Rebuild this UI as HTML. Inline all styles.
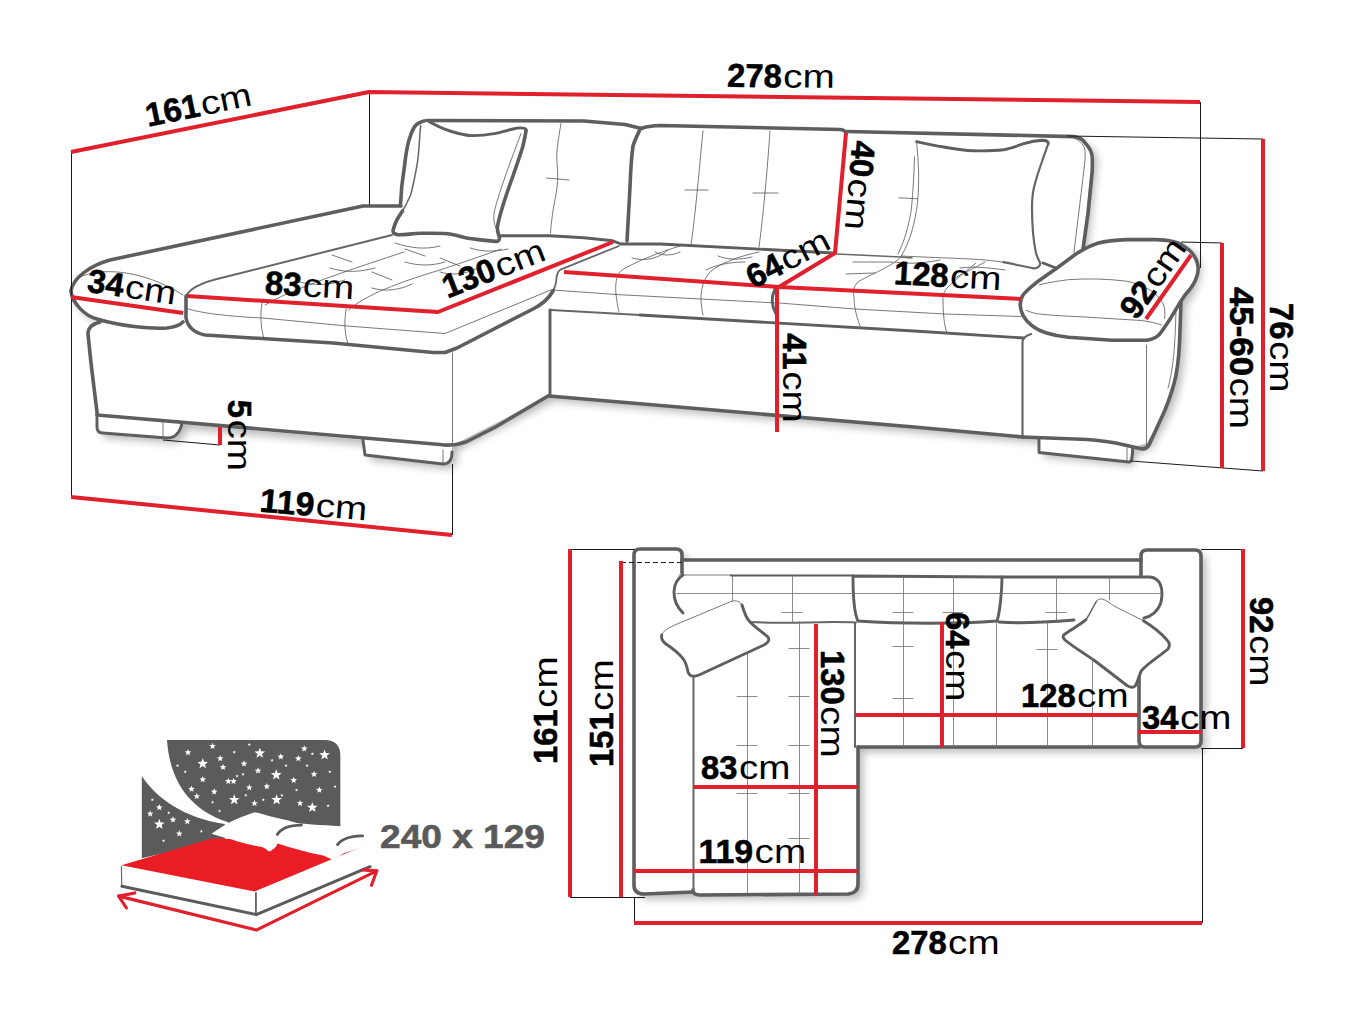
<!DOCTYPE html>
<html><head><meta charset="utf-8"><title>Sofa dimensions</title>
<style>
html,body{margin:0;padding:0;background:#fff;}
svg{display:block;}
.o{fill:none;stroke:#5e5e5e;stroke-width:3.6;stroke-linecap:round;stroke-linejoin:round;}
.o2{fill:none;stroke:#5e5e5e;stroke-width:2.9;stroke-linecap:round;stroke-linejoin:round;}
.m{fill:none;stroke:#666;stroke-width:1.5;stroke-linecap:round;stroke-linejoin:round;}
.t{fill:none;stroke:#555;stroke-width:0.8;stroke-linecap:round;}
.k{fill:none;stroke:#1a1a1a;stroke-width:1;}
.r{fill:none;stroke:#e0202c;stroke-width:4;stroke-linejoin:round;}
text{font-family:"Liberation Sans",sans-serif;font-size:33px;fill:#000;}
.b{font-weight:bold;stroke:#000;stroke-width:0.6;}
</style></head>
<body>
<svg width="1371" height="1028" viewBox="0 0 1371 1028">
<rect width="1371" height="1028" fill="#fff"/>
<g id="sofa3d">
<defs><filter id="sh" x="-5%" y="-5%" width="110%" height="115%"><feGaussianBlur stdDeviation="4"/></filter></defs>
<path d="M71,291C73,277 92,265 110,260L363,206H400L404,166L411,135Q416,122 428,120.500L584,121L641,128.500L660,125.500L840,129.500L847,132L1074,137Q1093,140 1092,160L1082,250C1095,243 1115,240 1131,240L1170,241C1185,243 1196,250 1196,262C1196,275 1190,290 1181,300L1180,330C1179,370 1175,385 1165,410L1147,443L1132,448L1129,461L1039,452V438L1023,437L549,396L452,445.500V452Q452,464 443,464L365,455L363,440L182,424Q179,438 167,438L103,433Q97,433 97,427V415L88,334Q88,326 97,319C85,316 72,303 71,291Z" fill="#000" opacity="0.28" filter="url(#sh)" transform="translate(5,5)"/>
<path d="M71,291C73,277 92,265 110,260L363,206H400L404,166L411,135Q416,122 428,120.500L584,121L641,128.500L660,125.500L840,129.500L847,132L1074,137Q1093,140 1092,160L1082,250C1095,243 1115,240 1131,240L1170,241C1185,243 1196,250 1196,262C1196,275 1190,290 1181,300L1180,330C1179,370 1175,385 1165,410L1147,443L1132,448L1129,461L1039,452V438L1023,437L549,396L452,445.500V452Q452,464 443,464L365,455L363,440L182,424Q179,438 167,438L103,433Q97,433 97,427V415L88,334Q88,326 97,319C85,316 72,303 71,291Z" fill="#fff"/>
<!-- back-left edge & left arm pad -->
<path class="o" d="M71,291C73,277 92,265 110,260L363,206H401"/>
<path class="o" d="M71,291C72,303 85,316 97,319C120,326 150,329 167,328C175,327 180,325 183,322"/>
<path class="t" d="M80,277C100,268 140,268 183,295"/>
<!-- chaise cushion -->
<path class="m" style="stroke-width:2" d="M392,235L215,279.500C200,283.500 190,288.500 186,296"/>
<path class="o" d="M186,296L186,318C188,328 195,333 205,335L333,343L433,352.500H445L457,348L533,309C543,304 549,298 553,291"/>
<path class="m" style="stroke-width:1.800" d="M553,291C556,285 556.500,282 556.500,278C557,273 558,271 561,269.300L619,246"/>
<path class="t" d="M186,308C200,314 240,317 263,318L347,326L445,333.500L552,289.500"/>
<path class="t" d="M263,299C260,310 260,325 264,339"/><path class="t" d="M347,305C344,318 344,332 348,344"/>
<!-- tufting center seat -->
<g class="t">
<path d="M680,246C660,252 635,262 622,270C616,275 615,285 616,294C617,303 618,308 619,312"/>
<path d="M759,252C740,256 720,263 710,272C703,280 701,290 701,298C701,305 702,310 703,315"/>
<path d="M553,290L616,294.500L701,299L776,303"/>
<path d="M779,303L855,309L945,314L1021,316.500"/>
<path d="M912,232C910,245 905,255 895,262C880,272 862,278 857,283C853,288 853,292 854,296C854,305 855,312 860,326"/>
<path d="M976,263C965,272 955,280 947,288C943,293 943,296 943,300C943,312 944,325 947,333"/>
<path d="M632,258C645,262 660,258 668,250"/><path d="M655,252C662,256 672,256 680,252"/>
<path d="M706,270C715,265 730,262 745,262"/><path d="M718,256C728,260 740,260 752,257"/>
<path d="M853,262H893"/><path d="M846,274L875,273"/><path d="M895,262C910,265 930,262 940,260"/>
<path d="M960,268C975,266 990,268 1005,270"/><path d="M955,278C965,272 975,268 985,262"/>
<!-- chaise tufting -->
<path d="M265,305C290,290 340,273 404,252"/>
<path d="M348.500,310C365,295 400,282 440,270C470,260 490,253 501,249"/>
<path d="M300,282C315,286 330,285 345,280"/><path d="M330,268C345,273 360,272 375,268"/>
<path d="M372,288C385,292 400,290 412,284"/><path d="M405,262C418,266 432,266 445,262"/>
<path d="M440,272C452,276 466,274 478,268"/><path d="M470,248C482,252 495,252 508,249"/>
<path d="M395,243C410,248 425,250 440,246"/><path d="M352,262L332,255"/><path d="M425,256L405,249"/><path d="M392,280L372,272"/><path d="M460,266L440,258"/>
</g>
<!-- chaise base -->
<path class="o" d="M100,322C92,324 88,328 88,334L91,363L97,412V415L440,444.500Q453,446.500 466,442L495.600,427L548,396"/>
<path class="o2" d="M97,415V427Q97,433 103,433L167,438Q179,438 182,423"/>
<path class="t" d="M163,420V437"/>
<path class="o2" d="M363,440L365,455L443,464Q452,464 452,452"/>
<path class="t" d="M443,450V463"/>
<path class="t" d="M452.500,353V445"/>
<!-- center base -->
<path class="o2" d="M550,310V395"/>
<path class="o" d="M549,396L914,427L1023,437"/>
<path class="m" style="stroke-width:1.800" d="M551,310L640,315"/><path class="o2" d="M640,315L914,331L1024,338"/>
<path class="o2" d="M775,289C771,297 771,305 776,314"/>
<!-- seat back edge -->
<path class="o2" d="M500.500,235.700L549.500,235.700L584,237.800L612.800,240.800L621,244L660,244L834,253"/>
<path class="m" d="M837,254L901,257L912,258"/><path class="o2" d="M1043,263L1056,268"/>
<!-- left back cushion -->
<path class="o" d="M400.500,205C401,190 403,175 404.500,166C406,152 408,142 410.500,135.600C413,128 416,124 419,123C422,121 425,120.500 428,120.500L584,121L625,124.500L641.400,128.500"/>
<path class="o" d="M639.500,130.500C636,138 634,142 633,146C631,160 630.500,175 630,187C629,205 628,225 627,241"/>
<path class="o" d="M641.400,128.500L644,127.500Q650,126 660,125.500L840,129.500Q845,130 846,133"/>
<path class="t" d="M561,123.500C559,135 557,147 556.700,156C557,165 558,172 557.700,180.600C557,190 555,200 553.600,207C552,217 551,225 550.500,233"/><path class="t" d="M546.500,178L569,180"/>
<path class="t" d="M703,131C700,160 696,210 691,245"/><path class="t" d="M685,190H708"/>
<path class="t" d="M770,131C768,160 764,210 759,247"/><path class="t" d="M753,193H778"/>
<!-- right back cushion -->
<path class="o" d="M847,131.500L1072.800,136.600C1079,137 1083,139.500 1085,142.700C1089,147 1092,152 1092.200,157C1092.500,162 1092.300,167 1092.200,171.300L1088.200,212L1083,249"/>
<path class="t" d="M1075,138.500C1081,141 1084.500,146 1085,150.800C1085.500,156 1085,160 1084.500,165L1073.900,253"/>
<!-- left pillow -->
<path style="fill:#fff;stroke:none" d="M428,121C434,124.400 445,129.500 451.500,131.500C458,133.500 465,135.600 472,135.600C480,135.600 488,134.800 494.400,133.600C500,132.500 506,130.500 510.700,129.500C515,128.500 518,127.700 521,127.900C525,128 526.500,129 526,130.500C525.500,135 524,141 523,146C520,156 516,167 512.800,176.500C509,187 505,198 502.500,207C500,215 498,222 497.400,227.500C497,232 499,235 499.500,237.800C499.800,240 498,241.600 496.400,241.400C488,241 480,239.800 472,238.800C463,237.500 455,234.500 447.400,233.700C438,233 430,233.200 420.800,233.300C412,233.400 405,235 398.400,234.700C394,234.500 392.500,232 393.300,229.600C393.800,227.500 394.500,225.500 395.300,223.500C397,219 400,215 402.500,211C405.500,206 408,201 410.600,195C413,187 415,176 416.800,166.300C418.500,157 419.200,146 419.800,135.600C420,131 420.500,128 420.800,125.400Z"/>
<path class="o" d="M526,130.500C525.500,135 524,141 523,146C520,156 516,167 512.800,176.500C509,187 505,198 502.500,207C500,215 498,222 497.400,227.500C497,232 499,235 499.500,237.800C499.800,240 498,241.600 496.400,241.400C488,241 480,239.800 472,238.800C463,237.500 455,234.500 447.400,233.700C438,233 430,233.200 420.800,233.300C412,233.400 405,235 398.400,234.700C394,234.500 392.500,232 393.300,229.600C393.800,227.500 394.500,225.500 395.300,223.500C397,219 400,215 402.500,211"/>
<path class="o2" d="M428,121C434,124.400 445,129.500 451.500,131.500C458,133.500 465,135.600 472,135.600C480,135.600 488,134.800 494.400,133.600C500,132.500 506,130.500 510.700,129.500C515,128.500 518,127.700 521,127.900C525,128 526.500,129 526,130.500"/>
<path class="m" d="M402.500,211C405.500,206 408,201 410.600,195C413,187 415,176 416.800,166.300C418.500,157 419.200,146 419.800,135.600C420,131 420.500,128 420.800,125.400"/>
<path class="t" d="M521,133.600C516,147 511,160 506.600,172.400C502,186 497,200 494.400,211C493,218 494,224 496,228"/>
<!-- right pillow -->
<path style="fill:#fff;stroke:none" d="M916.600,141.700C925,143.500 934,145.500 942,146.800C952,148.500 962,150.500 972.800,150.800C983,151 994,151 1003.400,149.800C1010,148.500 1017,146 1023.800,143.700C1030,141.800 1036,140.500 1042.200,140.200C1046,140.200 1048.500,141.500 1048.300,143.700C1046.500,149 1044,155 1042.200,161C1039,170 1036,179 1034,187.600C1032.500,194 1032,201 1032,208C1032,216 1032.300,224 1033,232.500C1033.500,239 1034.500,246 1036,253C1037,257 1039,260.500 1040.200,263.200C1040.500,266 1037,268.500 1034,268.300C1024,266.500 1013,264 1003.400,262.200C992,260.500 981,259.500 970.700,259C950,258 920,257 901.300,256C906,248 909,240 911.500,232.500C914.500,222 916.500,212 917.600,201.900C918.500,192 918.800,181 918.600,171.300C918.300,161 917.500,151 916.600,141.700Z"/>
<path class="o2" d="M916.600,141.700C925,143.500 934,145.500 942,146.800C952,148.500 962,150.500 972.800,150.800C983,151 994,151 1003.400,149.800C1010,148.500 1017,146 1023.800,143.700C1030,141.800 1036,140.500 1042.200,140.200C1046,140.200 1048.500,141.500 1048.300,143.700"/>
<path class="m" style="stroke-width:2.200" d="M1048.300,143.700C1046.500,149 1044,155 1042.200,161C1039,170 1036,179 1034,187.600C1032.500,194 1032,201 1032,208C1032,216 1032.300,224 1033,232.500C1033.500,239 1034.500,246 1036,253C1037,257 1039,260.500 1040.200,263.200C1040.500,266 1037,268.500 1034,268.300C1024,266.500 1013,264 1003.400,262.200"/>
<path class="t" d="M1003.400,262.200C992,260.500 981,259.500 970.700,259C950,258 920,257 901.300,256C906,248 909,240 911.500,232.500C914.500,222 916.500,212 917.600,201.900C918.500,192 918.800,181 918.600,171.300C918.300,161 917.500,151 916.600,141.700"/>
<path class="t" d="M914.500,157C914,175 913,192 911.500,208C909,225 905,240 898,254"/><path class="t" d="M899,197.800L917.600,198.800"/>
<!-- right arm pad -->
<path class="o" d="M1083,249.800C1088,247 1092,245 1097.500,243.200C1106,241 1116,240 1126.700,239.600L1155.900,239.600C1161,239.700 1166,240 1170.500,241C1176,242 1181,244 1185,246.900C1189,249.500 1192,252 1193.800,255.600C1196.500,259.500 1198,264 1198.200,268.800C1198.200,273 1197,277 1195.300,280.400C1193,285.500 1189,290.500 1185,295L1179.200,303.800L1170.500,318.400L1161.700,331.500C1160,334 1158,336 1155.900,337.300C1153,339 1150,340 1147,340.200L1112,340.200L1068.400,337.300C1060,336.500 1053,335 1046.500,333C1041,331.500 1036,329 1031.900,325.700C1028,322.500 1025,319 1023,315.400C1021.500,312 1020.300,308.500 1020.200,305.200C1020.300,301.500 1021,298 1023,295C1027,290 1033,285.500 1039.200,280.400L1058,267.300L1075.600,254.200C1078,252.500 1080.500,251 1083,249.800Z" style="fill:#fff"/>
<path class="t" d="M1039.200,284.800C1049,282.500 1058,281 1068.400,279.700C1078,279 1088,278.800 1097.500,279C1107,279.300 1117,280 1126.700,281.200C1135,283 1142,285.500 1148.600,289.200C1155,293 1160,298 1163.200,303.800C1165,308 1165.200,313 1164.600,318.400"/>
<path class="t" d="M1026,310.300C1030,312 1034,313.300 1039.200,314C1054,315.500 1068,316.300 1083,316.900L1141.300,320.500C1149,321.500 1156,323 1161.700,325"/>
<!-- right base -->
<path class="m" style="stroke-width:2.200" d="M1031,334C1025,336 1022.500,338 1022.500,342V437"/>
<path class="o" d="M1022.500,437L1087.500,439.500Q1110,441.500 1122.500,444.500L1140,448.500Q1146,450 1149,445L1165,410C1175,385 1179,370 1180,330L1181,302"/>
<path class="t" d="M1146.500,345V446"/>
<path class="t" d="M1176,310C1175,350 1173,370 1168,388"/>
<path class="o2" d="M1039,438V452.500L1129,462Q1133,462 1132.500,449"/>
<path class="t" d="M1127,448V462"/>
</g>

<g id="topview">
<path d="M634,555Q634,549 640,549H676Q682,549 682,555V560H1141V556Q1141,550 1147,550H1195Q1201,550 1201,556V741Q1201,747 1195,747H858V884Q858,894 848,894H644Q634,894 634,885Z" fill="#000" opacity="0.28" filter="url(#sh)" transform="translate(5,5)"/>
<path d="M634,555Q634,549 640,549H676Q682,549 682,555V560H1141V556Q1141,550 1147,550H1195Q1201,550 1201,556V741Q1201,747 1195,747H858V884Q858,894 848,894H644Q634,894 634,885Z" fill="#fff"/>
<!-- left arm -->
<path class="o" d="M682,573V555Q682,549 676,549H640Q634,549 634,555V885Q634,894 644,894L693,892"/>
<!-- back top -->
<path class="o" d="M682,560H1141"/>
<!-- right arm -->
<path class="o" d="M1141,575V556Q1141,550 1147,550H1195Q1201,550 1201,556V741Q1201,747 1195,747H1145Q1139,747 1139,741V673"/>
<!-- seat front -->
<path class="o" d="M858,747H1139"/>
<path class="o" d="M858,747V884Q858,893 848,894L700,895Q693,895 693,890"/>
<path class="m" style="stroke-width:2" d="M693.500,677V892"/>
<!-- back cushions -->
<path class="o2" d="M683,575C672,582 670,600 683,613"/>
<path class="t" d="M679,575H731"/><path class="o2" style="stroke-width:2.2" d="M731,575.500H853"/>
<path class="m" style="stroke-width:2" d="M750,622C790,624 820,621 856,622.500"/>
<path class="o2" d="M853,576C853,600 855,615 858,621C900,624 960,624 997,621C1000,612 1002,590 1002,577Z"/>
<path class="o2" d="M1002,577H1150C1160,578 1164,588 1161,602C1158,612 1150,617 1144,618"/>
<path class="o2" d="M999,622C1020,624 1050,622 1074,620"/>
<path class="m" style="stroke-width:2" d="M855,623V747"/>
<!-- thin seams -->
<g class="t" style="stroke:#6e6e6e">
<path d="M677,593.5H1161"/>
<path d="M732.5,575V622"/><path d="M792.5,575V622"/>
<path d="M903.5,577V747"/><path d="M953.5,577V747"/>
<path d="M1056.5,577V620"/><path d="M1109.5,577V600"/>
<path d="M747.5,622V893"/><path d="M799.5,622V893"/>

<path d="M996.5,622V747"/><path d="M1047.5,622V747"/><path d="M1092.5,650V747"/><path d="M1138.5,680V747"/>
<path d="M737,696.5H757"/><path d="M789,696.5H809"/><path d="M737,745.5H757"/><path d="M789,745.5H809"/>
<path d="M737,793.5H757"/><path d="M789,793.5H809"/><path d="M789,838.5H809"/><path d="M789,648.5H809"/>
<path d="M893,646.5H913"/><path d="M893,698.5H913"/><path d="M1037,649.5H1057"/>
<path d="M722,612.5H742"/><path d="M782,612.5H802"/><path d="M893,612.5H913"/><path d="M943,612.5H963"/><path d="M1046,612.5H1066"/>
</g>
<!-- pillows -->
<path style="fill:#fff;stroke:none" d="M661.800,635C663,631 668,628 676,624.500L731,601.500C736,600 740,601 742,605C744,612 746,618 750,622C756,628 762,632 768,637C770,640 768,643 764,645L699,675C694,677 690,677 688,672C687,667 686,663 684,660C680,654 672,648 666,644C662,641 661,638 661.800,635Z"/>
<path class="t" d="M661.800,635C663,631 668,628 676,624.500L731,601.500C736,600 740,601 742,605"/>
<path class="o2" d="M742,605C744,612 746,618 750,622C756,628 762,632 768,637C770,640 768,643 764,645L699,675C694,677 690,677 688,672C687,667 686,663 684,660C680,654 672,648 666,644C662,641 661,638 661.800,635"/>
<path style="fill:#fff;stroke:none" d="M1096.400,601.300C1098,599 1100,598.500 1102.500,599.200C1106,600 1110,603 1114,606L1143.400,620.700C1152,626 1162,634 1167,640C1170,643 1170,646 1168,649C1160,656 1148,663 1141.400,670.700C1139,676 1138,681 1135.200,686C1133,688 1130,687.500 1127,685.500L1094.400,660.500C1085,654 1072,646 1065,640C1063,638 1062.500,636 1063.700,635C1070,630 1080,625 1086,619.700C1090,614 1093,607 1096.400,601.300Z"/>
<path class="t" d="M1096.400,601.300C1098,599 1100,598.500 1102.500,599.200C1106,600 1110,603 1114,606L1143.400,620.700"/>
<path class="o2" d="M1143.400,620.700C1152,626 1162,634 1167,640C1170,643 1170,646 1168,649C1160,656 1148,663 1141.400,670.700C1139,676 1138,681 1135.200,686C1133,688 1130,687.500 1127,685.500L1094.400,660.500C1085,654 1072,646 1065,640C1063,638 1062.500,636 1063.700,635C1070,630 1080,625 1086,619.700"/>
<path class="m" d="M1086,619.700C1090,614 1093,607 1096.400,601.300"/>
</g>

<g id="bed" transform="translate(90,720) scale(0.35011)">
<path fill="#5b5b5b" d="M220,57H670Q715,57 715,102V310H395V292C260,250 225,140 220,57Z"/>
<path fill="#5b5b5b" d="M148,160C190,225 270,280 385,297L385,340L148,395Z"/>
<path fill="#fff" d="M485.0,79.0L488.9,89.6L500.2,90.1L491.4,97.1L494.4,107.9L485.0,101.7L475.6,107.9L478.6,97.1L469.8,90.1L481.1,89.6ZM322.0,109.0L325.9,119.6L337.2,120.1L328.4,127.1L331.4,137.9L322.0,131.7L312.6,137.9L315.6,127.1L306.8,120.1L318.1,119.6ZM532.0,141.0L535.9,151.6L547.2,152.1L538.4,159.1L541.4,169.9L532.0,163.7L522.6,169.9L525.6,159.1L516.8,152.1L528.1,151.6ZM670.0,84.0L673.9,94.6L685.2,95.1L676.4,102.1L679.4,112.9L670.0,106.7L660.6,112.9L663.6,102.1L654.8,95.1L666.1,94.6ZM412.0,212.0L415.9,222.6L427.2,223.1L418.4,230.1L421.4,240.9L412.0,234.7L402.6,240.9L405.6,230.1L396.8,223.1L408.1,222.6ZM635.0,234.0L638.9,244.6L650.2,245.1L641.4,252.1L644.4,262.9L635.0,256.7L625.6,262.9L628.6,252.1L619.8,245.1L631.1,244.6ZM198.0,282.0L201.9,292.6L213.2,293.1L204.4,300.1L207.4,310.9L198.0,304.7L188.6,310.9L191.6,300.1L182.8,293.1L194.1,292.6ZM533.0,212.0L536.9,222.6L548.2,223.1L539.4,230.1L542.4,240.9L533.0,234.7L523.6,240.9L526.6,230.1L517.8,223.1L529.1,222.6ZM280.0,83.0L282.5,89.6L289.5,89.9L284.0,94.3L285.9,101.1L280.0,97.2L274.1,101.1L276.0,94.3L270.5,89.9L277.5,89.6ZM350.0,65.0L352.5,71.6L359.5,71.9L354.0,76.3L355.9,83.1L350.0,79.2L344.1,83.1L346.0,76.3L340.5,71.9L347.5,71.6ZM372.0,100.0L374.5,106.6L381.5,106.9L376.0,111.3L377.9,118.1L372.0,114.2L366.1,118.1L368.0,111.3L362.5,106.9L369.5,106.6ZM380.0,125.0L382.5,131.6L389.5,131.9L384.0,136.3L385.9,143.1L380.0,139.2L374.1,143.1L376.0,136.3L370.5,131.9L377.5,131.6ZM440.0,115.0L442.5,121.6L449.5,121.9L444.0,126.3L445.9,133.1L440.0,129.2L434.1,133.1L436.0,126.3L430.5,121.9L437.5,121.6ZM480.0,135.0L482.5,141.6L489.5,141.9L484.0,146.3L485.9,153.1L480.0,149.2L474.1,153.1L476.0,146.3L470.5,141.9L477.5,141.6ZM545.0,95.0L547.5,101.6L554.5,101.9L549.0,106.3L550.9,113.1L545.0,109.2L539.1,113.1L541.0,106.3L535.5,101.9L542.5,101.6ZM595.0,100.0L597.5,106.6L604.5,106.9L599.0,111.3L600.9,118.1L595.0,114.2L589.1,118.1L591.0,111.3L585.5,106.9L592.5,106.6ZM612.0,72.0L614.5,78.6L621.5,78.9L616.0,83.3L617.9,90.1L612.0,86.2L606.1,90.1L608.0,83.3L602.5,78.9L609.5,78.6ZM640.0,145.0L642.5,151.6L649.5,151.9L644.0,156.3L645.9,163.1L640.0,159.2L634.1,163.1L636.0,156.3L630.5,151.9L637.5,151.6ZM582.0,162.0L584.5,168.6L591.5,168.9L586.0,173.3L587.9,180.1L582.0,176.2L576.1,180.1L578.0,173.3L572.5,168.9L579.5,168.6ZM505.0,180.0L507.5,186.6L514.5,186.9L509.0,191.3L510.9,198.1L505.0,194.2L499.1,198.1L501.0,191.3L495.5,186.9L502.5,186.6ZM455.0,183.0L457.5,189.6L464.5,189.9L459.0,194.3L460.9,201.1L455.0,197.2L449.1,201.1L451.0,194.3L445.5,189.9L452.5,189.6ZM395.0,165.0L397.5,171.6L404.5,171.9L399.0,176.3L400.9,183.1L395.0,179.2L389.1,183.1L391.0,176.3L385.5,171.9L392.5,171.6ZM410.0,165.0L412.5,171.6L419.5,171.9L414.0,176.3L415.9,183.1L410.0,179.2L404.1,183.1L406.0,176.3L400.5,171.9L407.5,171.6ZM322.0,160.0L324.5,166.6L331.5,166.9L326.0,171.3L327.9,178.1L322.0,174.2L316.1,178.1L318.0,171.3L312.5,166.9L319.5,166.6ZM290.0,187.0L292.5,193.6L299.5,193.9L294.0,198.3L295.9,205.1L290.0,201.2L284.1,205.1L286.0,198.3L280.5,193.9L287.5,193.6ZM355.0,195.0L357.5,201.6L364.5,201.9L359.0,206.3L360.9,213.1L355.0,209.2L349.1,213.1L351.0,206.3L345.5,201.9L352.5,201.6ZM305.0,208.0L307.5,214.6L314.5,214.9L309.0,219.3L310.9,226.1L305.0,222.2L299.1,226.1L301.0,219.3L295.5,214.9L302.5,214.6ZM470.0,228.0L472.5,234.6L479.5,234.9L474.0,239.3L475.9,246.1L470.0,242.2L464.1,246.1L466.0,239.3L460.5,234.9L467.5,234.6ZM600.0,228.0L602.5,234.6L609.5,234.9L604.0,239.3L605.9,246.1L600.0,242.2L594.1,246.1L596.0,239.3L590.5,234.9L597.5,234.6ZM655.0,190.0L657.5,196.6L664.5,196.9L659.0,201.3L660.9,208.1L655.0,204.2L649.1,208.1L651.0,201.3L645.5,196.9L652.5,196.6ZM172.0,258.0L174.5,264.6L181.5,264.9L176.0,269.3L177.9,276.1L172.0,272.2L166.1,276.1L168.0,269.3L162.5,264.9L169.5,264.6ZM198.0,240.0L200.5,246.6L207.5,246.9L202.0,251.3L203.9,258.1L198.0,254.2L192.1,258.1L194.0,251.3L188.5,246.9L195.5,246.6ZM278.0,280.0L280.5,286.6L287.5,286.9L282.0,291.3L283.9,298.1L278.0,294.2L272.1,298.1L274.0,291.3L268.5,286.9L275.5,286.6ZM255.0,315.0L257.5,321.6L264.5,321.9L259.0,326.3L260.9,333.1L255.0,329.2L249.1,333.1L251.0,326.3L245.5,321.9L252.5,321.6ZM237.0,275.0L239.5,281.6L246.5,281.9L241.0,286.3L242.9,293.1L237.0,289.2L231.1,293.1L233.0,286.3L227.5,281.9L234.5,281.6ZM635.0,92.0L636.2,95.3L639.8,95.5L637.0,97.6L637.9,101.0L635.0,99.1L632.1,101.0L633.0,97.6L630.2,95.5L633.8,95.3ZM685.0,143.0L686.2,146.3L689.8,146.5L687.0,148.6L687.9,152.0L685.0,150.1L682.1,152.0L683.0,148.6L680.2,146.5L683.8,146.3ZM680.0,240.0L681.2,243.3L684.8,243.5L682.0,245.6L682.9,249.0L680.0,247.1L677.1,249.0L678.0,245.6L675.2,243.5L678.8,243.3ZM548.0,210.0L549.2,213.3L552.8,213.5L550.0,215.6L550.9,219.0L548.0,217.1L545.1,219.0L546.0,215.6L543.2,213.5L546.8,213.3ZM210.0,340.0L211.2,343.3L214.8,343.5L212.0,345.6L212.9,349.0L210.0,347.1L207.1,349.0L208.0,345.6L205.2,343.5L208.8,343.3ZM318.0,313.0L319.2,316.3L322.8,316.5L320.0,318.6L320.9,322.0L318.0,320.1L315.1,322.0L316.0,318.6L313.2,316.5L316.8,316.3ZM370.0,255.0L371.2,258.3L374.8,258.5L372.0,260.6L372.9,264.0L370.0,262.1L367.1,264.0L368.0,260.6L365.2,258.5L368.8,258.3ZM420.0,155.0L421.2,158.3L424.8,158.5L422.0,160.6L422.9,164.0L420.0,162.1L417.1,164.0L418.0,160.6L415.2,158.5L418.8,158.3ZM437.0,150.0L438.2,153.3L441.8,153.5L439.0,155.6L439.9,159.0L437.0,157.1L434.1,159.0L435.0,155.6L432.2,153.5L435.8,153.3ZM560.0,125.0L561.2,128.3L564.8,128.5L562.0,130.6L562.9,134.0L560.0,132.1L557.1,134.0L558.0,130.6L555.2,128.5L558.8,128.3ZM520.0,110.0L521.2,113.3L524.8,113.5L522.0,115.6L522.9,119.0L520.0,117.1L517.1,119.0L518.0,115.6L515.2,113.5L518.8,113.3ZM455.0,65.0L456.2,68.3L459.8,68.5L457.0,70.6L457.9,74.0L455.0,72.1L452.1,74.0L453.0,70.6L450.2,68.5L453.8,68.3ZM412.0,87.0L413.2,90.3L416.8,90.5L414.0,92.6L414.9,96.0L412.0,94.1L409.1,96.0L410.0,92.6L407.2,90.5L410.8,90.3ZM250.0,125.0L251.2,128.3L254.8,128.5L252.0,130.6L252.9,134.0L250.0,132.1L247.1,134.0L248.0,130.6L245.2,128.5L248.8,128.3ZM272.0,143.0L273.2,146.3L276.8,146.5L274.0,148.6L274.9,152.0L272.0,150.1L269.1,152.0L270.0,148.6L267.2,146.5L270.8,146.3ZM590.0,195.0L591.2,198.3L594.8,198.5L592.0,200.6L592.9,204.0L590.0,202.1L587.1,204.0L588.0,200.6L585.2,198.5L588.8,198.3ZM445.0,210.0L446.2,213.3L449.8,213.5L447.0,215.6L447.9,219.0L445.0,217.1L442.1,219.0L443.0,215.6L440.2,213.5L443.8,213.3ZM350.0,230.0L351.2,233.3L354.8,233.5L352.0,235.6L352.9,239.0L350.0,237.1L347.1,239.0L348.0,235.6L345.2,233.5L348.8,233.3ZM620.0,125.0L621.2,128.3L624.8,128.5L622.0,130.6L622.9,134.0L620.0,132.1L617.1,134.0L618.0,130.6L615.2,128.5L618.8,128.3ZM700.0,185.0L701.2,188.3L704.8,188.5L702.0,190.6L702.9,194.0L700.0,192.1L697.1,194.0L698.0,190.6L695.2,188.5L698.8,188.3ZM495.0,223.0L496.2,226.3L499.8,226.5L497.0,228.6L497.9,232.0L495.0,230.1L492.1,232.0L493.0,228.6L490.2,226.5L493.8,226.3ZM178.0,223.0L179.2,226.3L182.8,226.5L180.0,228.6L180.9,232.0L178.0,230.1L175.1,232.0L176.0,228.6L173.2,226.5L176.8,226.3ZM225.0,260.0L226.2,263.3L229.8,263.5L227.0,265.6L227.9,269.0L225.0,267.1L222.1,269.0L223.0,265.6L220.2,263.5L223.8,263.3Z"/>
<path fill="#fff" d="M90,415L92,482L475,562L800,432V352L470,490Z"/>
<path fill="#ea1c24" d="M90,415L350,338L800,352L470,490Z"/>
<path fill="none" stroke="#5b5b5b" stroke-width="8.5" stroke-linejoin="round" stroke-linecap="round" d="M91,475L475,556L800,419"/>
<path fill="none" stroke="#5b5b5b" stroke-width="5" d="M474,492V556"/><path fill="none" stroke="#5b5b5b" stroke-width="3" d="M89.500,418L91,475"/>
<path fill="#fff" d="M347,325C365,312 385,300 403,290C425,280 445,272 466,265C475,262 485,266 497,270C520,277 560,285 591,294C620,298 640,298 653,300C680,300 710,303 735,306C750,308 765,313 778,319C790,324 800,329 806,334C806,344 804,350 802,354C775,364 745,374 722,382C714,388 702,396 691,398C683,395 675,390 666,387C640,382 615,376 591,369C570,364 550,358 535,353C533,360 530,366 522,369C517,374 513,376 510,375C505,370 498,365 491,362.500C460,358 430,350 403,340.600C385,336 365,331 347,325Z"/>
<path fill="none" stroke="#5b5b5b" stroke-width="8" stroke-linecap="round" d="M535,327C545,310 570,300 604,300"/>
<path fill="none" stroke="#5b5b5b" stroke-width="8" stroke-linecap="round" d="M707,356C720,338 750,330 779,331"/>
<g fill="none" stroke="#e0202c" stroke-width="9" stroke-linejoin="round" stroke-linecap="round">
<path d="M82,503L475,600L819,431"/><path d="M128,494L82,503L104,537"/><path d="M779,428L819,431L804,472"/>
</g>
</g>

<g id="dims">
<g class="k">
<path d="M71.5,152V497"/><path d="M369.5,92V205"/><path d="M1200.5,102V268"/>
<path d="M1067,136L1263,139"/><path d="M1181,242L1222,243"/>
<path d="M452.5,464V535"/><path d="M163,440L220,445"/><path d="M1131,461L1263,471"/>
<path d="M570,549.5H635"/><path d="M570,897.5H645"/><path d="M634.5,897V923"/>
<path d="M1201,549.5H1243"/><path d="M1201,748.5H1243"/><path d="M1202.5,748V923"/>
<path d="M621,562.5H682" stroke-dasharray="5 3"/>
</g>
<g class="r">
<path d="M71,152L369,92L1200,102"/>
<path d="M71,297L183,313"/>
<path d="M187,296L438,312L613,242"/>
<path d="M564,272L779,287L1021,299"/>
<path d="M779,287L835,253L846,133"/>
<path d="M777,287V432"/>
<path d="M1146,319L1191,255"/>
<path d="M1222,243V468"/>
<path d="M1263,139V471"/>
<path d="M71,497L452,535"/>
<path d="M220,427V445"/>
<path d="M570,549V897"/>
<path d="M621,561V897"/>
<path d="M816,624V895"/>
<path d="M693,787H858"/>
<path d="M634,871H858"/>
<path d="M855,715H1138"/>
<path d="M942,622V747"/>
<path d="M1138,732H1202"/>
<path d="M1243,549V748"/>
<path d="M634,923H1202"/>
</g>
</g>

<g id="labels">
<g transform="translate(148,126.7) rotate(-11.6)"><text class="b" x="0" y="0" textLength="54.6" lengthAdjust="spacingAndGlyphs">161</text><text x="56.1" y="0" textLength="51.5" lengthAdjust="spacingAndGlyphs">cm</text></g>
<g transform="translate(727,86.7) rotate(0.7)"><text class="b" x="0" y="0" textLength="54.6" lengthAdjust="spacingAndGlyphs">278</text><text x="56.1" y="0" textLength="51.5" lengthAdjust="spacingAndGlyphs">cm</text></g>
<g transform="translate(86.3,291.6) rotate(8.5)"><text class="b" x="0" y="0" textLength="36.4" lengthAdjust="spacingAndGlyphs">34</text><text x="37.9" y="0" textLength="51.5" lengthAdjust="spacingAndGlyphs">cm</text></g>
<g transform="translate(264.5,294) rotate(3.3)"><text class="b" x="0" y="0" textLength="36.4" lengthAdjust="spacingAndGlyphs">83</text><text x="37.9" y="0" textLength="51.5" lengthAdjust="spacingAndGlyphs">cm</text></g>
<g transform="translate(447.4,298.4) rotate(-21.3)"><text class="b" x="0" y="0" textLength="54.6" lengthAdjust="spacingAndGlyphs">130</text><text x="56.1" y="0" textLength="51.5" lengthAdjust="spacingAndGlyphs">cm</text></g>
<g transform="translate(259,511.5) rotate(4.8)"><text class="b" x="0" y="0" textLength="54.6" lengthAdjust="spacingAndGlyphs">119</text><text x="56.1" y="0" textLength="51.5" lengthAdjust="spacingAndGlyphs">cm</text></g>
<g transform="translate(227.5,399.8) rotate(90)"><text class="b" x="0" y="0" textLength="18.2" lengthAdjust="spacingAndGlyphs">5</text><text x="19.7" y="0" textLength="51.5" lengthAdjust="spacingAndGlyphs">cm</text></g>
<g transform="translate(753.5,289) rotate(-27.5)"><text class="b" x="0" y="0" textLength="36.4" lengthAdjust="spacingAndGlyphs">64</text><text x="37.9" y="0" textLength="51.5" lengthAdjust="spacingAndGlyphs">cm</text></g>
<g transform="translate(852.5,140) rotate(95)"><text class="b" x="0" y="0" textLength="36.4" lengthAdjust="spacingAndGlyphs">40</text><text x="37.9" y="0" textLength="51.5" lengthAdjust="spacingAndGlyphs">cm</text></g>
<g transform="translate(783,333.3) rotate(90)"><text class="b" x="0" y="0" textLength="36.4" lengthAdjust="spacingAndGlyphs">41</text><text x="37.9" y="0" textLength="51.5" lengthAdjust="spacingAndGlyphs">cm</text></g>
<g transform="translate(893.5,284) rotate(3.3)"><text class="b" x="0" y="0" textLength="54.6" lengthAdjust="spacingAndGlyphs">128</text><text x="56.1" y="0" textLength="51.5" lengthAdjust="spacingAndGlyphs">cm</text></g>
<g transform="translate(1136.5,321) rotate(-55)"><text class="b" x="0" y="0" textLength="36.4" lengthAdjust="spacingAndGlyphs">92</text><text x="37.9" y="0" textLength="51.5" lengthAdjust="spacingAndGlyphs">cm</text></g>
<g transform="translate(1229.5,287) rotate(90)"><text class="b" x="0" y="0" textLength="89.0" lengthAdjust="spacingAndGlyphs">45-60</text><text x="90.5" y="0" textLength="51.5" lengthAdjust="spacingAndGlyphs">cm</text></g>
<g transform="translate(1269.5,303) rotate(90)"><text class="b" x="0" y="0" textLength="36.4" lengthAdjust="spacingAndGlyphs">76</text><text x="37.9" y="0" textLength="51.5" lengthAdjust="spacingAndGlyphs">cm</text></g>
<g transform="translate(556.5,764) rotate(-90)"><text class="b" x="0" y="0" textLength="54.6" lengthAdjust="spacingAndGlyphs">161</text><text x="56.1" y="0" textLength="51.5" lengthAdjust="spacingAndGlyphs">cm</text></g>
<g transform="translate(613,767) rotate(-90)"><text class="b" x="0" y="0" textLength="54.6" lengthAdjust="spacingAndGlyphs">151</text><text x="56.1" y="0" textLength="51.5" lengthAdjust="spacingAndGlyphs">cm</text></g>
<g transform="translate(820.5,650) rotate(90)"><text class="b" x="0" y="0" textLength="54.6" lengthAdjust="spacingAndGlyphs">130</text><text x="56.1" y="0" textLength="51.5" lengthAdjust="spacingAndGlyphs">cm</text></g>
<g transform="translate(945.5,612) rotate(90)"><text class="b" x="0" y="0" textLength="36.4" lengthAdjust="spacingAndGlyphs">64</text><text x="37.9" y="0" textLength="51.5" lengthAdjust="spacingAndGlyphs">cm</text></g>
<g transform="translate(701,779.3) rotate(0)"><text class="b" x="0" y="0" textLength="36.4" lengthAdjust="spacingAndGlyphs">83</text><text x="37.9" y="0" textLength="51.5" lengthAdjust="spacingAndGlyphs">cm</text></g>
<g transform="translate(698.5,863.3) rotate(0)"><text class="b" x="0" y="0" textLength="54.6" lengthAdjust="spacingAndGlyphs">119</text><text x="56.1" y="0" textLength="51.5" lengthAdjust="spacingAndGlyphs">cm</text></g>
<g transform="translate(1021,706.7) rotate(0)"><text class="b" x="0" y="0" textLength="54.6" lengthAdjust="spacingAndGlyphs">128</text><text x="56.1" y="0" textLength="51.5" lengthAdjust="spacingAndGlyphs">cm</text></g>
<g transform="translate(1142,729) rotate(0)"><text class="b" x="0" y="0" textLength="36.4" lengthAdjust="spacingAndGlyphs">34</text><text x="37.9" y="0" textLength="51.5" lengthAdjust="spacingAndGlyphs">cm</text></g>
<g transform="translate(1249.5,597) rotate(90)"><text class="b" x="0" y="0" textLength="36.4" lengthAdjust="spacingAndGlyphs">92</text><text x="37.9" y="0" textLength="51.5" lengthAdjust="spacingAndGlyphs">cm</text></g>
<g transform="translate(892,954.3) rotate(0)"><text class="b" x="0" y="0" textLength="54.6" lengthAdjust="spacingAndGlyphs">278</text><text x="56.1" y="0" textLength="51.5" lengthAdjust="spacingAndGlyphs">cm</text></g>
<text class="b" x="380" y="848" textLength="165" lengthAdjust="spacingAndGlyphs" style="font-size:34px;fill:#5a5a5a;stroke:#5a5a5a">240 x 129</text>
</g>
</svg>
</body></html>
